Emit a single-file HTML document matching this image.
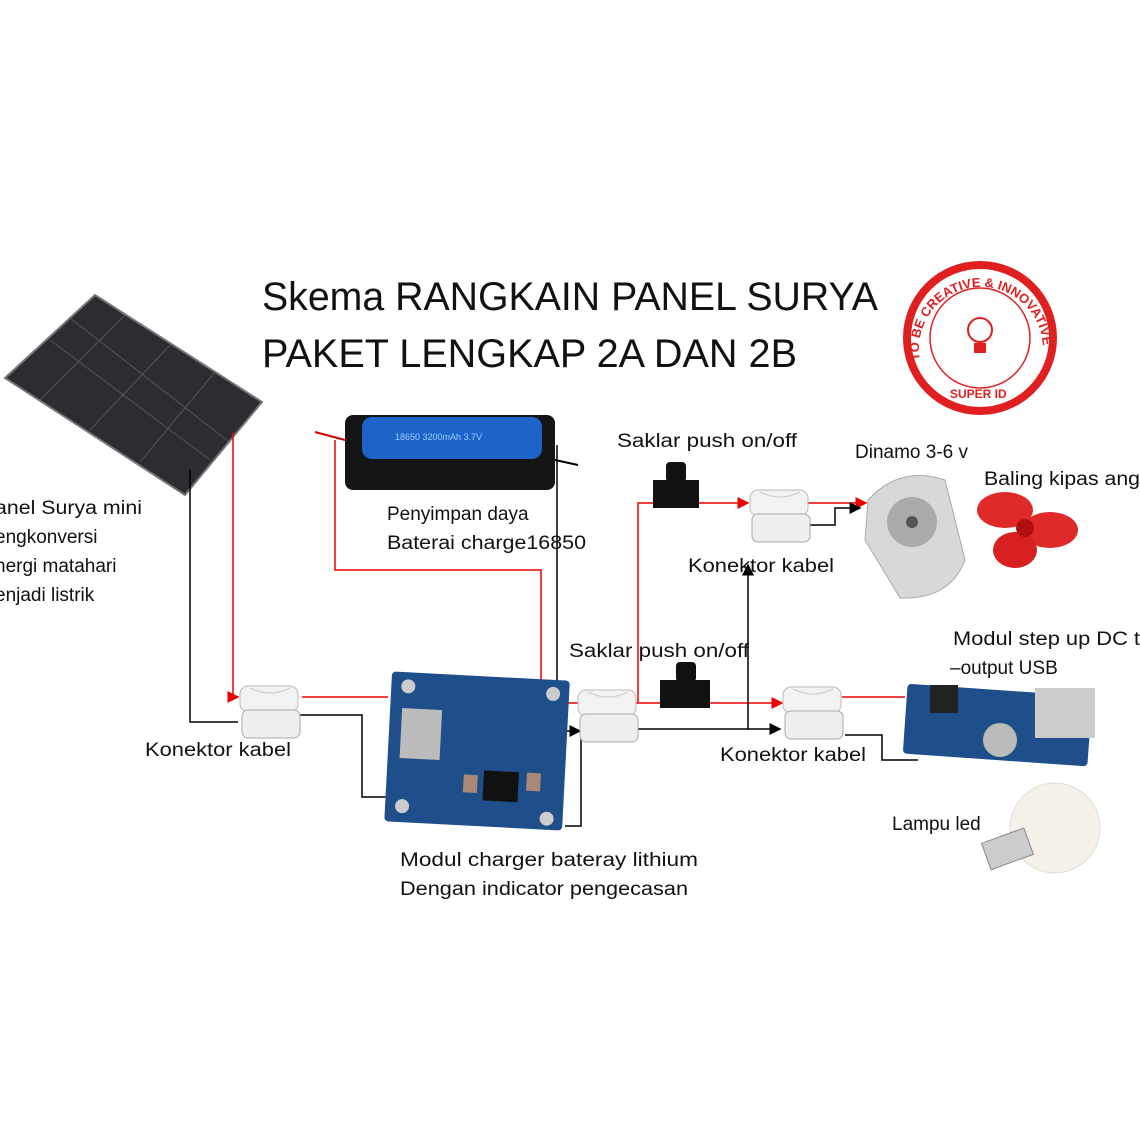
<!DOCTYPE html>
<html><head><meta charset="utf-8"><style>
body{margin:0;width:1140px;height:1140px;background:#fff;overflow:hidden}
svg{display:block}
text{font-family:"Liberation Sans","DejaVu Sans",sans-serif;fill:#111}
</style></head><body>
<svg width="1140" height="1140" viewBox="0 0 1140 1140">
<defs>
<marker id="ar" markerWidth="8" markerHeight="8" refX="7" refY="4" orient="auto"><path d="M0,0L8,4L0,8z" fill="#e00"/></marker>
<marker id="ab" markerWidth="8" markerHeight="8" refX="7" refY="4" orient="auto"><path d="M0,0L8,4L0,8z" fill="#000"/></marker>
<g id="conn"><rect x="0" y="0" width="58" height="26" rx="8" fill="#f2f2f2" stroke="#bbb"/><rect x="2" y="24" width="58" height="28" rx="6" fill="#eee" stroke="#aaa"/><path d="M10,2 q20,10 40,0" stroke="#ccc" fill="none"/></g>
<path id="arc" d="M920,360 A62,62 0 1 1 1042,360"/>
</defs>
<!-- solar panel -->
<polygon points="95,295 262,402 185,495 5,378" fill="#2b2d33" stroke="#777" stroke-width="2"/>
<g stroke="#555" stroke-width="1"><line x1="70" y1="318" x2="228" y2="441"/><line x1="50" y1="340" x2="210" y2="460"/><line x1="125" y1="315" x2="40" y2="400"/><line x1="170" y1="345" x2="90" y2="430"/><line x1="215" y1="372" x2="140" y2="462"/></g>
<!-- title -->
<text x="262" y="310" font-size="40" textLength="616" lengthAdjust="spacingAndGlyphs">Skema RANGKAIN PANEL SURYA</text>
<text x="262" y="367" font-size="40" textLength="535" lengthAdjust="spacingAndGlyphs">PAKET LENGKAP 2A DAN 2B</text>
<!-- logo -->
<circle cx="980" cy="338" r="73" fill="none" stroke="#e02020" stroke-width="8"/>
<circle cx="980" cy="338" r="50" fill="none" stroke="#e02020" stroke-width="1.5"/>
<circle cx="980" cy="330" r="12" fill="none" stroke="#e02020" stroke-width="2"/>
<rect x="974" y="343" width="12" height="10" fill="#e02020"/>
<text font-size="13" font-weight="bold" style="fill:#e02020"><textPath href="#arc">TO BE CREATIVE &amp; INNOVATIVE</textPath></text>
<text x="950" y="398" font-size="12" font-weight="bold" style="fill:#e02020">SUPER ID</text>
<!-- battery -->
<rect x="345" y="415" width="210" height="75" rx="8" fill="#151515"/>
<rect x="362" y="417" width="180" height="42" rx="10" fill="#1e63c8"/>
<text x="395" y="440" font-size="9" style="fill:#9cf">18650 3200mAh 3.7V</text>
<line x1="315" y1="432" x2="345" y2="440" stroke="#c00" stroke-width="2"/>
<line x1="555" y1="460" x2="578" y2="465" stroke="#000" stroke-width="2"/>
<!-- wires -->
<g fill="none" stroke-width="1.5">
<path d="M233,432V697H238" stroke="#e00" marker-end="url(#ar)"/>
<path d="M190,470V722H238" stroke="#000"/>
<path d="M302,697H388" stroke="#e00"/>
<path d="M300,715H362V797H405" stroke="#000"/>
<path d="M335,440V570H541V700" stroke="#e00" marker-end="url(#ar)"/>
<path d="M545,703H782" stroke="#e00" marker-end="url(#ar)"/>
<path d="M638,703V503H748" stroke="#e00" marker-end="url(#ar)"/>
<path d="M808,503H866" stroke="#e00" marker-end="url(#ar)"/>
<path d="M842,697H905" stroke="#e00"/>
<path d="M557,445V731H580" stroke="#000" marker-end="url(#ab)"/>
<path d="M565,826H581V731" stroke="#000"/>
<path d="M638,729H748V565" stroke="#000" marker-end="url(#ab)"/>
<path d="M748,729H780" stroke="#000" marker-end="url(#ab)"/>
<path d="M808,525H835V508H860" stroke="#000" marker-end="url(#ab)"/>
<path d="M845,735H882V760H918" stroke="#000"/>
</g>
<!-- charger board -->
<g transform="rotate(3 477 752)"><rect x="388" y="676" width="178" height="150" rx="4" fill="#1f4f8a"/>
<rect x="400" y="712" width="40" height="50" fill="#bbb"/><rect x="485" y="770" width="35" height="30" fill="#111"/>
<circle cx="405" cy="690" r="7" fill="#ccc"/><circle cx="405" cy="810" r="7" fill="#ccc"/><circle cx="550" cy="690" r="7" fill="#ccc"/><circle cx="550" cy="815" r="7" fill="#ccc"/>
<rect x="465" y="775" width="14" height="18" fill="#a87"/><rect x="528" y="770" width="14" height="18" fill="#a87"/></g>
<!-- connectors -->
<use href="#conn" x="240" y="686"/><use href="#conn" x="578" y="690"/><use href="#conn" x="750" y="490"/><use href="#conn" x="783" y="687"/>
<!-- switches -->
<rect x="653" y="480" width="46" height="28" fill="#111"/><rect x="666" y="462" width="20" height="20" rx="4" fill="#111"/>
<rect x="660" y="680" width="50" height="28" fill="#111"/><rect x="676" y="662" width="20" height="20" rx="4" fill="#111"/>
<!-- dinamo -->
<path d="M868,500 Q900,465 945,480 L965,560 Q950,600 900,598 L865,540Z" fill="#d8d8d8" stroke="#aaa"/>
<circle cx="912" cy="522" r="25" fill="#aaa"/><circle cx="912" cy="522" r="6" fill="#555"/>
<!-- fan -->
<ellipse cx="1005" cy="510" rx="28" ry="18" fill="#e02a2a"/><ellipse cx="1050" cy="530" rx="28" ry="18" fill="#e02a2a"/><ellipse cx="1015" cy="550" rx="22" ry="18" fill="#d82020"/><circle cx="1025" cy="528" r="9" fill="#b01010"/>
<!-- step up -->
<rect x="905" y="690" width="185" height="70" rx="4" fill="#1f4f8a" transform="rotate(4 997 725)"/>
<rect x="1035" y="688" width="60" height="50" fill="#ccc"/><circle cx="1000" cy="740" r="17" fill="#bbb"/><rect x="930" y="685" width="28" height="28" fill="#222"/>
<!-- lamp -->
<circle cx="1055" cy="828" r="45" fill="#f6f1e8" stroke="#ddd"/>
<rect x="985" y="835" width="45" height="28" fill="#ccc" stroke="#888" transform="rotate(-20 1007 849)"/>
<!-- labels -->
<g font-size="19">
<text x="-5" y="514" textLength="147" lengthAdjust="spacingAndGlyphs">anel Surya mini</text>
<text x="-5" y="543">engkonversi</text>
<text x="-5" y="572">nergi matahari</text>
<text x="-5" y="601">enjadi listrik</text>
<text x="387" y="520">Penyimpan daya</text>
<text x="387" y="549" textLength="199" lengthAdjust="spacingAndGlyphs">Baterai charge16850</text>
<text x="617" y="447" textLength="180" lengthAdjust="spacingAndGlyphs">Saklar push on/off</text>
<text x="855" y="458">Dinamo 3-6 v</text>
<text x="984" y="485" textLength="156" lengthAdjust="spacingAndGlyphs">Baling kipas ang</text>
<text x="688" y="572" textLength="146" lengthAdjust="spacingAndGlyphs">Konektor kabel</text>
<text x="569" y="657" textLength="180" lengthAdjust="spacingAndGlyphs">Saklar push on/off</text>
<text x="953" y="645" textLength="187" lengthAdjust="spacingAndGlyphs">Modul step up DC t</text>
<text x="950" y="674">–output  USB</text>
<text x="145" y="756" textLength="146" lengthAdjust="spacingAndGlyphs">Konektor kabel</text>
<text x="720" y="761" textLength="146" lengthAdjust="spacingAndGlyphs">Konektor kabel</text>
<text x="892" y="830">Lampu led</text>
<text x="400" y="866" textLength="298" lengthAdjust="spacingAndGlyphs">Modul charger bateray lithium</text>
<text x="400" y="895" textLength="288" lengthAdjust="spacingAndGlyphs">Dengan indicator pengecasan</text>
</g>
</svg>
</body></html>
